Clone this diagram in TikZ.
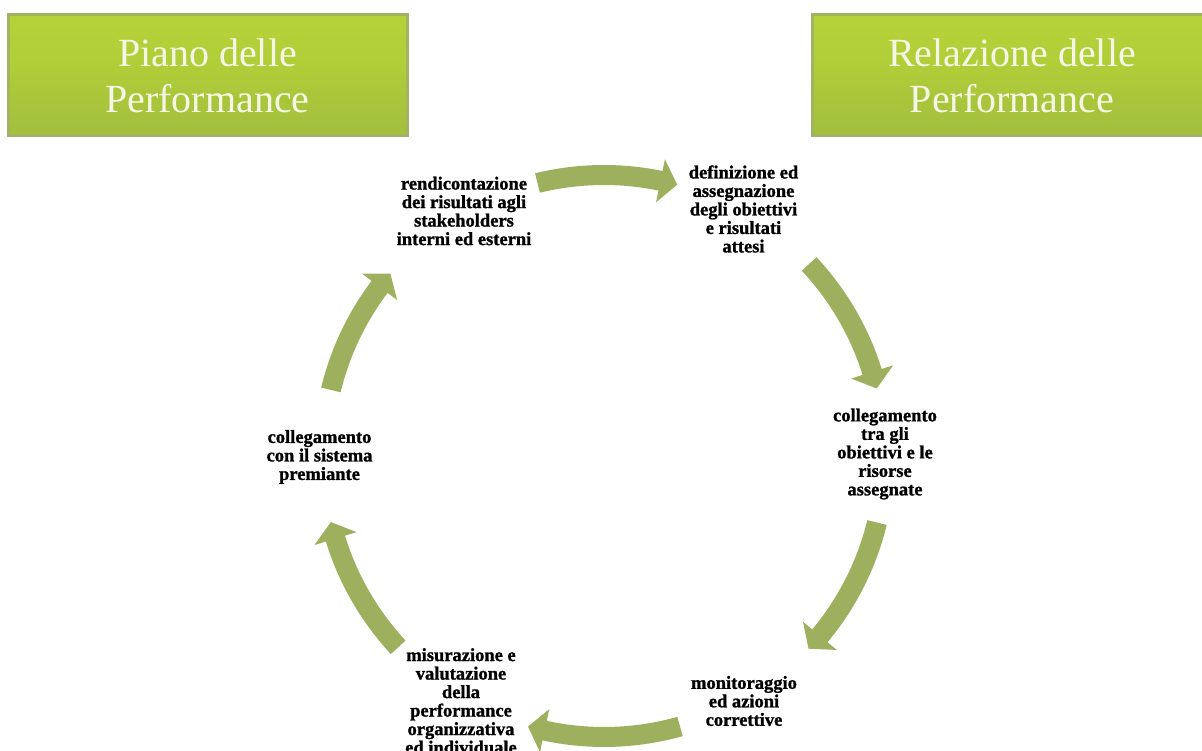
\documentclass[tikz,border=0pt]{standalone}
\usepackage{fontspec}
\setmainfont{Liberation Serif}
\newfontfamily\stepfont{Liberation Serif}[BoldFeatures={FakeBold=1.2}]
\usetikzlibrary{calc}
\definecolor{arrowgreen}{RGB}{156,176,94}
\definecolor{boxborder}{RGB}{160,180,98}
\definecolor{headtext}{RGB}{246,246,230}
\definecolor{headbot}{RGB}{200,210,165}
\definecolor{headlow}{RGB}{160,184,74}
\definecolor{headmidlow}{RGB}{162,190,62}
\definecolor{headmid}{RGB}{176,206,56}
\definecolor{headtop}{RGB}{190,216,60}
\pgfdeclareverticalshading{headshade}{100bp}{%
 color(0bp)=(headbot);
 color(8bp)=(headlow);
 color(25bp)=(headmidlow);
 color(55bp)=(headmid);
 color(100bp)=(headtop)}
\tikzset{
  headbox/.style={shading=headshade, draw=boxborder, line width=3pt,
    minimum width=399pt, minimum height=121pt, align=center,
    text=headtext, font=\fontsize{40}{46}\selectfont},
  steptext/.style={align=center, inner sep=0pt, text=black,
    font=\stepfont\bfseries\fontsize{18.5}{18.5}\selectfont}
}
\newcommand\cycarrow[2]{%
  \pgfmathsetmacro\hb{#2+3.5}%
  \fill[arrowgreen] (#1:291pt) arc[start angle=#1, end angle=\hb, radius=291pt]
    -- (\hb:303pt) -- (#2:281pt) -- (\hb:259pt) -- (\hb:271pt)
    arc[start angle=\hb, end angle=#1, radius=271pt] -- cycle;}
\begin{document}
\begin{tikzpicture}[x=1pt,y=1pt]
\fill[white] (0,0) rectangle (1202,751);
\useasboundingbox (0,0) rectangle (1202,751);
\node[headbox] (piano) at (207.5,675.5) {Piano delle\\Performance};
\node[headbox] (relazione) at (1012,675.5) {Relazione delle\\Performance};

\node[steptext] (n1) at (464,540) {rendicontazione\\dei risultati agli\\stakeholders\\interni ed esterni};
\node[steptext] (n2) at (743.5,542) {definizione ed\\assegnazione\\degli obiettivi\\e risultati\\attesi};
\node[steptext] (n3) at (885,297) {collegamento\\tra gli\\obiettivi e le\\risorse\\assegnate};
\node[steptext] (n4) at (744,50) {monitoraggio\\ed azioni\\correttive};
\node[steptext] (n5) at (461,50) {misurazione e\\valutazione\\della\\performance\\organizzativa\\ed individuale};
\node[steptext] (n6) at (319.5,294) {collegamento\\con il sistema\\premiante};

\begin{scope}[shift={(604pt,295pt)}]
  \cycarrow{103.7}{74.9}
  \cycarrow{43.1}{13.9}
  \cycarrow{-13.7}{-43.3}
  \cycarrow{-74.3}{-105.7}
  \cycarrow{-137.1}{-166.4}
  \cycarrow{166.4}{139.5}
\end{scope}
\end{tikzpicture}
\end{document}
